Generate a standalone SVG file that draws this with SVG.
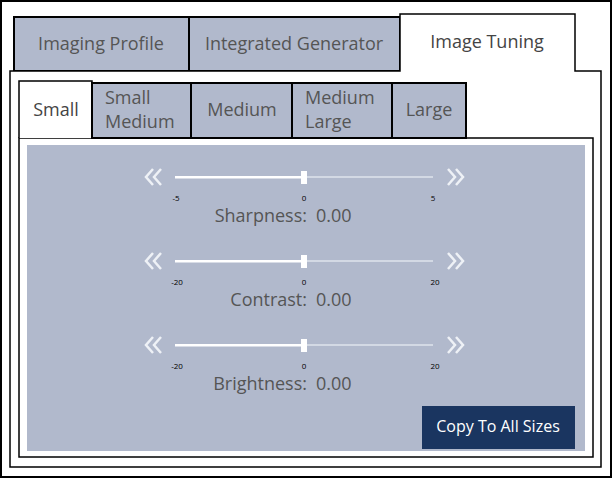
<svg xmlns="http://www.w3.org/2000/svg" width="612" height="478" viewBox="0 0 612 478">
<style>
.tab{fill:#b1b9cc;stroke:#000;stroke-width:2}
.t{font-family:"Segoe UI","Open Sans","Noto Sans",sans-serif;fill:#555;font-size:18px;text-anchor:middle}
.s{font-family:"Open Sans",sans-serif;fill:#555;font-size:18px;text-anchor:middle}
.tk{font-family:"Open Sans",sans-serif;fill:#000;font-size:8px;text-anchor:middle}
.lb{font-family:"Open Sans",sans-serif;fill:#555;font-size:18px}
.ch{fill:none;stroke:#eef1f6;stroke-width:2.5}
</style>
<rect x="1" y="1" width="610" height="476" fill="#fff" stroke="#000" stroke-width="2"/>
<g id="tab-profile"><rect class="tab" x="14" y="17" width="175" height="54"/><text class="t" x="101" y="50">Imaging Profile</text></g>
<g id="tab-generator"><rect class="tab" x="189" y="17" width="211" height="54"/><text class="t" x="294" y="50">Integrated Generator</text></g>
<path d="M10 71 H400 V14 H575 V71 H601 V467 H10 Z" fill="#fff" stroke="#000" stroke-width="1.5"/>
<g id="tab-tuning"><text class="t" x="487" y="48" style="fill:#444">Image Tuning</text></g>
<rect x="19" y="138" width="574" height="319" fill="#fff" stroke="#000" stroke-width="1.5"/>
<g id="sub-small"><path d="M19 138 V81 H92 V138" fill="#fff" stroke="#000" stroke-width="1.5"/><text class="s" x="56" y="116" style="fill:#444">Small</text></g>
<g id="sub-smallmedium"><rect class="tab" x="92" y="83" width="99" height="55"/><text class="s" x="105" y="104" style="text-anchor:start">Small</text><text class="s" x="105" y="128" style="text-anchor:start">Medium</text></g>
<g id="sub-medium"><rect class="tab" x="191" y="83" width="101" height="55"/><text class="s" x="242" y="116">Medium</text></g>
<g id="sub-mediumlarge"><rect class="tab" x="292" y="83" width="100" height="55"/><text class="s" x="305" y="104" style="text-anchor:start">Medium</text><text class="s" x="305" y="128" style="text-anchor:start">Large</text></g>
<g id="sub-large"><rect class="tab" x="392" y="83" width="74" height="55"/><text class="s" x="429" y="116">Large</text></g>
<rect x="27" y="145" width="558" height="306" fill="#b1b9cc"/>
<g id="slider-sharpness">
<path class="ch" d="M153 169 l-7 8 l7 8 M161 169 l-7 8 l7 8 M448 169 l7 8 l-7 8 M456 169 l7 8 l-7 8"/>
<rect x="175" y="176" width="258" height="2" fill="#d3d9e4"/><rect x="175" y="176" width="130" height="2.5" fill="#fff"/>
<rect x="301" y="171" width="6" height="13" fill="#fff"/>
<text class="tk" x="176" y="201">-5</text><text class="tk" x="304" y="201">0</text><text class="tk" x="433" y="201">5</text>
<text class="lb" x="307" y="222" text-anchor="end">Sharpness:</text><text class="lb" x="316" y="222">0.00</text>
</g>
<g id="slider-contrast" transform="translate(0,84)">
<path class="ch" d="M153 169 l-7 8 l7 8 M161 169 l-7 8 l7 8 M448 169 l7 8 l-7 8 M456 169 l7 8 l-7 8"/>
<rect x="175" y="176" width="258" height="2" fill="#d3d9e4"/><rect x="175" y="176" width="130" height="2.5" fill="#fff"/>
<rect x="301" y="171" width="6" height="13" fill="#fff"/>
<text class="tk" x="177" y="201">-20</text><text class="tk" x="304" y="201">0</text><text class="tk" x="435" y="201">20</text>
<text class="lb" x="307" y="222" text-anchor="end">Contrast:</text><text class="lb" x="316" y="222">0.00</text>
</g>
<g id="slider-brightness" transform="translate(0,168)">
<path class="ch" d="M153 169 l-7 8 l7 8 M161 169 l-7 8 l7 8 M448 169 l7 8 l-7 8 M456 169 l7 8 l-7 8"/>
<rect x="175" y="176" width="258" height="2" fill="#d3d9e4"/><rect x="175" y="176" width="130" height="2.5" fill="#fff"/>
<rect x="301" y="171" width="6" height="13" fill="#fff"/>
<text class="tk" x="177" y="201">-20</text><text class="tk" x="304" y="201">0</text><text class="tk" x="435" y="201">20</text>
<text class="lb" x="307" y="222" text-anchor="end">Brightness:</text><text class="lb" x="316" y="222">0.00</text>
</g>
<g id="btn-copy"><rect x="422" y="406" width="153" height="43" fill="#1a3560"/><text x="498" y="432" text-anchor="middle" font-family="'Open Sans',sans-serif" font-size="16" fill="#fff">Copy To All Sizes</text></g>
</svg>
